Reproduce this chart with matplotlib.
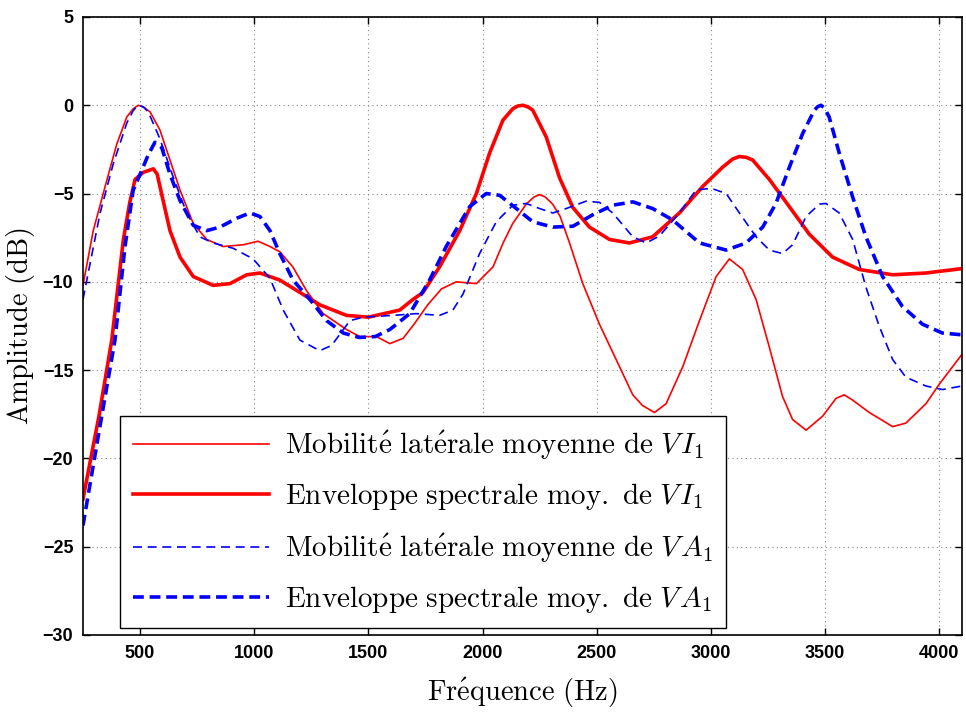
import matplotlib
matplotlib.use("Agg")
import matplotlib.pyplot as plt

plt.rcParams.update({
    "mathtext.fontset": "cm",
    "axes.linewidth": 1.2,
})

# Mobilite laterale moyenne de VI1 (thin red)
f_mob_vi1 = [250, 295, 347, 398, 442, 470, 492, 515, 544, 587, 631, 675, 733, 792, 864,
             952, 1017, 1069, 1112, 1169, 1229, 1302, 1404, 1462, 1535, 1594, 1652, 1700,
             1760, 1820, 1885, 1973, 2046, 2090, 2132, 2191, 2225, 2250, 2275, 2307,
             2340, 2381, 2439, 2512, 2585, 2658, 2700, 2753, 2804, 2877, 2950, 3023,
             3081, 3139, 3198, 3256, 3314, 3358, 3417, 3490, 3548, 3584, 3621, 3694,
             3796, 3854, 3942, 4000, 4100]
a_mob_vi1 = [-10.2, -7.1, -4.6, -2.2, -0.66, -0.2, 0.0, -0.1, -0.38, -1.4, -3.1, -4.8,
             -6.7, -7.6, -8.0, -7.9, -7.7, -8.0, -8.3, -9.15, -10.5, -11.8, -12.7,
             -13.1, -13.1, -13.5, -13.2, -12.4, -11.3, -10.4, -10.0, -10.1, -9.15,
             -7.8, -6.7, -5.6, -5.2, -5.06, -5.2, -5.6, -6.3, -7.8, -10.1, -12.4,
             -14.4, -16.4, -17.0, -17.4, -16.9, -14.8, -12.2, -9.7, -8.7, -9.3, -11.0,
             -13.7, -16.5, -17.8, -18.4, -17.6, -16.6, -16.4, -16.7, -17.4, -18.2,
             -18.0, -16.9, -15.8, -14.1]

# Enveloppe spectrale moy. de VI1 (thick red)
f_env_vi1 = [250, 320, 376, 427, 455, 478, 514, 536, 558, 575, 587, 631, 675, 733, 820,
             894, 967, 1025, 1112, 1200, 1287, 1404, 1500, 1637, 1695, 1739, 1812, 1900,
             1973, 2031, 2089, 2133, 2155, 2177, 2200, 2220, 2279, 2337, 2396, 2468,
             2556, 2643, 2745, 2862, 2964, 3052, 3095, 3125, 3155, 3183, 3256, 3344,
             3431, 3533, 3650, 3796, 3942, 4100]
a_env_vi1 = [-22.3, -17.6, -13.3, -7.6, -5.5, -4.2, -3.8, -3.7, -3.6, -3.9, -4.6, -7.1,
             -8.6, -9.7, -10.2, -10.1, -9.6, -9.5, -9.9, -10.6, -11.3, -11.9, -12.0,
             -11.6, -11.0, -10.6, -9.15, -7.1, -5.0, -2.7, -0.85, -0.19, -0.04, 0.0,
             -0.1, -0.28, -1.8, -4.1, -5.8, -6.9, -7.6, -7.8, -7.45, -6.1, -4.6, -3.5,
             -3.05, -2.9, -2.95, -3.1, -4.2, -5.75, -7.3, -8.6, -9.3, -9.6, -9.5, -9.25]

# Mobilite laterale moyenne de VA1 (thin blue dashed)
f_mob_va1 = [250, 325, 383, 442, 470, 492, 515, 536, 587, 645, 704, 762, 820, 908, 995,
             1069, 1127, 1200, 1287, 1339, 1419, 1477, 1608, 1710, 1812, 1870, 1914,
             1987, 2060, 2133, 2191, 2250, 2308, 2366, 2454, 2512, 2570, 2658, 2717,
             2775, 2862, 2935, 3001, 3067, 3125, 3198, 3256, 3314, 3358, 3417, 3475,
             3504, 3562, 3621, 3679, 3737, 3796, 3854, 3942, 4014, 4100]
a_mob_va1 = [-11.0, -6.1, -3.3, -1.0, -0.3, 0.0, -0.1, -0.38, -1.9, -4.06, -6.1, -7.45,
             -7.8, -8.1, -8.7, -9.8, -11.6, -13.3, -13.9, -13.6, -12.2, -12.0, -11.9,
             -11.8, -11.9, -11.6, -10.7, -8.4, -6.6, -5.66, -5.56, -5.85, -6.1, -5.85,
             -5.43, -5.5, -6.1, -7.45, -7.8, -7.4, -6.1, -4.8, -4.7, -5.0, -6.1, -7.45,
             -8.2, -8.4, -7.9, -6.3, -5.6, -5.56, -6.1, -7.6, -10.3, -12.5, -14.4,
             -15.4, -15.9, -16.1, -15.9]

# Enveloppe spectrale moy. de VA1 (thick blue dashed)
f_env_va1 = [250, 320, 390, 434, 470, 507, 536, 565, 595, 631, 675, 733, 792, 850, 923,
             981, 1025, 1069, 1112, 1170, 1244, 1317, 1390, 1460, 1530, 1594, 1681, 1768,
             1841, 1900, 1943, 2016, 2075, 2148, 2220, 2308, 2396, 2483, 2570, 2658,
             2745, 2833, 2950, 3067, 3154, 3227, 3285, 3344, 3402, 3453, 3468, 3482,
             3497, 3518, 3562, 3621, 3679, 3752, 3839, 3927, 4014, 4100]
a_env_va1 = [-23.8, -18.5, -13.3, -8.0, -4.8, -3.7, -2.8, -2.1, -2.4, -3.9, -5.4, -6.8,
             -7.1, -6.9, -6.4, -6.1, -6.3, -7.1, -8.4, -9.9, -11.0, -12.2, -12.9,
             -13.15, -13.1, -12.7, -11.8, -9.9, -8.0, -6.7, -5.75, -5.0, -5.1, -5.85,
             -6.6, -6.9, -6.85, -6.2, -5.66, -5.47, -5.85, -6.5, -7.8, -8.2, -7.8, -6.9,
             -5.56, -3.5, -1.6, -0.28, -0.08, 0.0, -0.15, -0.66, -2.7, -5.2, -7.45, -9.7,
             -11.4, -12.4, -12.9, -13.0]

labels = [
    r"$\mathrm{Mobilit\'e\ lat\'erale\ moyenne\ de\ }V\!\;I_1$",
    r"$\mathrm{Enveloppe\ spectrale\ moy.\ de\ }V\!\;I_1$",
    r"$\mathrm{Mobilit\'e\ lat\'erale\ moyenne\ de\ }V\!\;A_1\quad$",
    r"$\mathrm{Enveloppe\ spectrale\ moy.\ de\ }V\!\;A_1$",
]

fig = plt.figure(figsize=(9.66, 7.13), dpi=100)
ax = fig.add_axes([0.0859, 0.1094, 0.9100, 0.8668])

ax.plot(f_mob_vi1, a_mob_vi1, color="#ff0000", lw=1.2, label=labels[0])
ax.plot(f_env_vi1, a_env_vi1, color="#ff0000", lw=2.6, label=labels[1])
ax.plot(f_mob_va1, a_mob_va1, color="#0000ff", lw=1.2, dashes=(5.4, 3.4), label=labels[2])
ax.plot(f_env_va1, a_env_va1, color="#0000ff", lw=2.6, dashes=(3.0, 1.6), label=labels[3])

ax.set_xlim(250, 4100)
ax.set_ylim(-30, 5)
ax.set_xticks([500, 1000, 1500, 2000, 2500, 3000, 3500, 4000])
ax.set_yticks(range(-30, 6, 5))
ax.grid(True, linestyle=(0, (1, 3)), color="#888888", lw=0.8)
ax.tick_params(direction="in", top=True, right=True, length=5, width=1, pad=7)
for lbl in ax.get_xticklabels() + ax.get_yticklabels():
    lbl.set_fontfamily("Liberation Sans")
    lbl.set_fontweight("bold")
    lbl.set_fontsize(13)

ax.set_xlabel(r"$\mathrm{Fr\'equence\ (Hz)}$", fontsize=20.5, labelpad=10)
ax.set_ylabel(r"$\mathrm{Amplitude\ (dB)}$", fontsize=20.5, labelpad=4)

leg = ax.legend(loc="lower left", bbox_to_anchor=(0.042, 0.011), fontsize=21,
                fancybox=False, edgecolor="black", framealpha=1,
                handlelength=4.65, handletextpad=0.55, labelspacing=0.66,
                borderpad=0.45, borderaxespad=0)
leg.get_frame().set_linewidth(1.0)

fig.savefig("out.png", dpi=100)
